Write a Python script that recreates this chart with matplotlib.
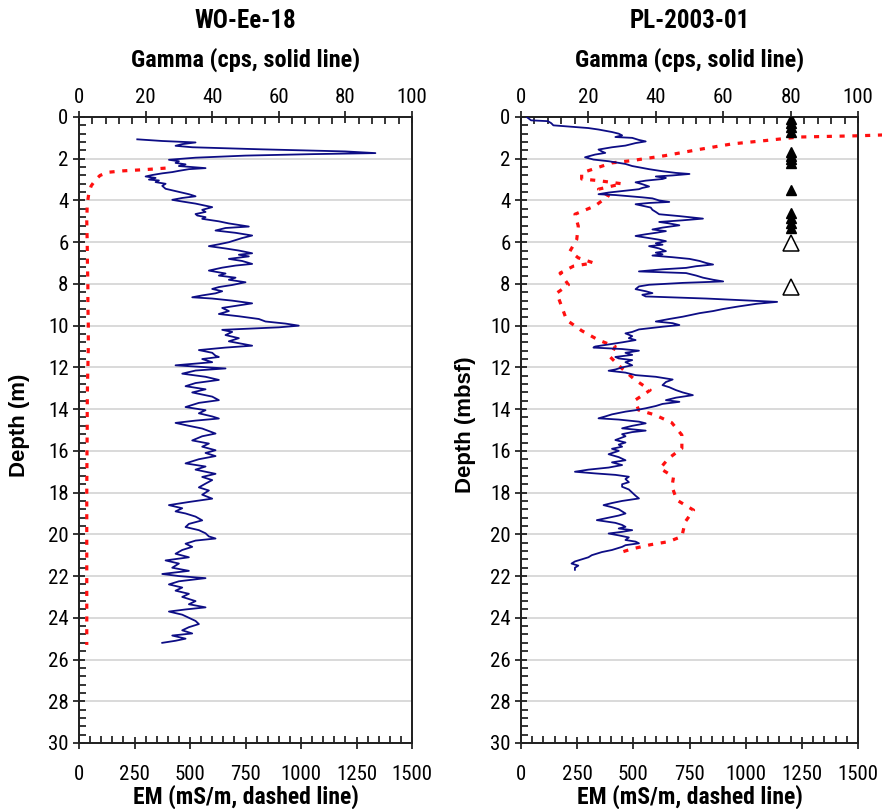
import matplotlib
matplotlib.use("Agg")
import matplotlib.pyplot as plt
from matplotlib.ticker import MultipleLocator
from matplotlib import font_manager as fm


def pick_narrow():
    names = {f.name for f in fm.fontManager.ttflist}
    pref = ['Liberation Sans Narrow', 'Arial Narrow', 'Roboto Condensed', 'Open Sans Condensed',
            'Noto Sans Condensed', 'DejaVu Sans Condensed']
    for p in pref:
        if p in names:
            return p, 'normal'
    for f in fm.fontManager.ttflist:
        st = str(f.stretch).lower()
        if 'condensed' in st and 'extra' not in st and 'ultra' not in st:
            return f.name, st
    return 'Liberation Sans', 'normal'


fam, stretch = pick_narrow()
plt.rcParams['font.family'] = [fam, 'Liberation Sans', 'DejaVu Sans']
plt.rcParams['font.stretch'] = stretch

# ---------------- data ----------------
titles = ["WO-Ee-18", "PL-2003-01"]
ylabels = ["Depth (m)", "Depth (mbsf)"]
gamma_ticks = [0, 20, 40, 60, 80, 100]
em_ticks = [0, 250, 500, 750, 1000, 1250, 1500]
depth_ticks = list(range(0, 31, 2))

# WO-Ee-18 gamma (depth m, cps)
wo_gamma_depth = [1.07, 1.15, 1.22, 1.3, 1.38, 1.45, 1.55, 1.65, 1.73, 1.78, 1.85, 1.95, 2.05, 2.12, 2.2, 2.27,
                  2.35, 2.45, 2.5, 2.58, 2.64, 2.7, 2.78, 2.85, 2.92, 3.0, 3.04, 3.12, 3.2, 3.3, 3.44, 3.55, 3.7,
                  3.8, 3.88, 3.97, 4.05, 4.15, 4.25, 4.32, 4.45, 4.55, 4.65, 4.72, 4.8, 4.88, 5.0, 5.1, 5.25, 5.32,
                  5.44, 5.55, 5.68, 5.8, 5.9, 6.0, 6.1, 6.19, 6.3, 6.4, 6.53, 6.6, 6.68, 6.8, 6.9, 7.04, 7.12, 7.22,
                  7.36, 7.5, 7.6, 7.7, 7.8, 7.92, 8.05, 8.15, 8.24, 8.35, 8.45, 8.55, 8.64, 8.7, 8.8, 8.93, 9.05,
                  9.15, 9.3, 9.44, 9.55, 9.68, 9.8, 9.9, 10.0, 10.08, 10.2, 10.3, 10.45, 10.6, 10.75, 10.96, 11.05,
                  11.17, 11.3, 11.44, 11.5, 11.6, 11.75, 11.9, 12.05, 12.15, 12.3, 12.45, 12.6, 12.75, 12.9, 13.05,
                  13.2, 13.4, 13.57, 13.7, 13.9, 14.05, 14.2, 14.35, 14.45, 14.55, 14.66, 14.8, 14.93, 15.05, 15.17,
                  15.3, 15.5, 15.65, 15.8, 15.97, 16.1, 16.25, 16.4, 16.6, 16.75, 16.9, 17.1, 17.25, 17.4, 17.57,
                  17.75, 17.9, 18.1, 18.29, 18.45, 18.6, 18.75, 18.9, 19.0, 19.15, 19.33, 19.5, 19.65, 19.8, 19.95,
                  20.1, 20.2, 20.3, 20.45, 20.6, 20.75, 20.93, 21.1, 21.25, 21.4, 21.6, 21.75, 21.9, 22.0, 22.1,
                  22.25, 22.4, 22.55, 22.7, 22.85, 23.0, 23.2, 23.35, 23.5, 23.6, 23.7, 23.85, 24.0, 24.15, 24.3,
                  24.45, 24.6, 24.75, 24.85, 25.0, 25.1, 25.2]
wo_gamma = [17.5, 25, 35, 31, 29, 34, 55, 80, 89, 70, 50, 35, 27, 30, 29, 32,
            30, 38, 33, 30, 28, 25, 22, 20, 23, 21, 24, 23, 26, 25, 26, 29, 33,
            35, 31, 28, 31, 35, 38, 40, 37, 38, 35, 35.5, 38, 37, 42, 45, 51, 44,
            41, 47, 52, 49, 47, 45, 42, 39, 44, 48, 52, 48, 51, 45, 49, 52, 47, 43,
            39, 44, 42, 47, 45, 50, 46, 42, 40, 43, 41, 37, 34, 40, 46, 52, 47,
            43, 45, 42, 48, 54, 56, 62, 66, 60, 43, 46, 44, 48, 45, 52, 44,
            36, 40, 41, 42, 37, 40, 29, 44, 35, 31, 38, 42, 35, 32, 38,
            34, 40, 42, 36, 32, 38, 36, 40, 42, 35, 29, 33, 37, 39, 41,
            37, 34, 39, 37, 41, 38, 41, 36, 32, 38, 35, 41, 37, 40, 38,
            36, 39, 37, 40, 33, 27, 31, 29, 32, 35, 37, 33, 32, 36, 38,
            39, 41, 35, 32, 34, 31, 29, 33, 26, 30, 28, 33, 25, 30, 38,
            30, 27, 31, 29, 33, 31, 35, 33, 38, 32, 27, 31, 33, 35, 36,
            33, 31, 34, 28, 32, 29, 25]

# WO-Ee-18 EM (depth m, mS/m)
wo_em_depth = [2.45, 2.52, 2.58, 2.65, 2.8, 3.0, 3.3, 3.6, 4.2, 5, 6, 7, 8, 9, 10, 11, 12, 13, 14, 15, 16, 18,
               20, 22, 24, 25.3]
wo_em = [390, 300, 200, 130, 95, 75, 55, 45, 37, 35, 37, 38, 40, 40, 42, 42, 40, 38, 37, 37, 36, 35,
         35, 35, 35, 35]

# PL-2003-01 gamma
pl_gamma_depth = [0.0, 0.1, 0.16, 0.2, 0.3, 0.4, 0.47, 0.53, 0.6, 0.72, 0.8, 0.88, 0.96, 1.0, 1.1, 1.17, 1.25,
                  1.37, 1.45, 1.56, 1.65, 1.72, 1.8, 1.93, 2.04, 2.12, 2.25, 2.35, 2.5, 2.6, 2.68, 2.73, 2.8,
                  2.85, 2.92, 2.97, 3.05, 3.13, 3.22, 3.33, 3.4, 3.46, 3.55, 3.62, 3.7, 3.74, 3.78, 3.85, 3.9,
                  4.0, 4.07, 4.12, 4.18, 4.25, 4.34, 4.45, 4.55, 4.66, 4.75, 4.87, 4.95, 5.03, 5.1, 5.19, 5.3,
                  5.39, 5.47, 5.55, 5.62, 5.7, 5.8, 5.88, 5.95, 6.05, 6.12, 6.19, 6.3, 6.43, 6.5, 6.58, 6.64,
                  6.72, 6.8, 6.9, 7.0, 7.07, 7.15, 7.23, 7.3, 7.4, 7.48, 7.6, 7.7, 7.8, 7.88, 7.95, 8.04, 8.12,
                  8.25, 8.35, 8.44, 8.52, 8.6, 8.7, 8.76, 8.86, 8.95, 9.08, 9.2, 9.3, 9.4, 9.5, 9.57, 9.68, 9.8,
                  9.88, 9.97, 10.05, 10.18, 10.3, 10.37, 10.5, 10.6, 10.69, 10.8, 10.9, 11.0, 11.05, 11.12, 11.2,
                  11.3, 11.4, 11.5, 11.57, 11.65, 11.75, 11.9, 12.0, 12.1, 12.16, 12.25, 12.37, 12.45, 12.58,
                  12.7, 12.85, 12.95, 13.09, 13.2, 13.33, 13.45, 13.57, 13.65, 13.75, 13.85, 13.96, 14.05, 14.12,
                  14.25, 14.35, 14.44, 14.5, 14.6, 14.68, 14.8, 14.92, 15.03, 15.1, 15.2, 15.3, 15.48, 15.6, 15.7,
                  15.8, 15.9, 16.0, 16.16, 16.3, 16.45, 16.55, 16.68, 16.8, 16.9, 17.0, 17.08, 17.15, 17.24, 17.35,
                  17.5, 17.6, 17.72, 17.85, 18.0, 18.15, 18.28, 18.4, 18.5, 18.6, 18.7, 18.8, 19.0, 19.1, 19.2,
                  19.32, 19.45, 19.55, 19.64, 19.72, 19.8, 19.88, 19.96, 20.05, 20.15, 20.27, 20.35, 20.43, 20.52,
                  20.6, 20.75, 20.85, 21.0, 21.1, 21.2, 21.3, 21.4, 21.5, 21.6, 21.7]
pl_gamma = [1.7, 2.5, 3, 8, 9, 9.6, 15, 20, 23, 27, 29, 30, 28, 33, 35, 37, 34,
            31, 27, 23, 24, 25, 22, 19, 21.5, 26, 31, 33, 38, 42, 46, 50, 45,
            40, 43, 42, 37, 34, 36, 38, 36, 35, 30, 26, 23, 28, 31, 36, 39,
            41, 44, 38, 34, 36, 38.5, 39, 40, 41, 47, 54, 48, 41, 44, 47, 42,
            39, 43, 40, 37, 34, 38, 41, 43, 40, 42, 38, 41, 43, 40, 42, 39,
            45, 50, 53, 55, 57, 52, 49, 42, 35, 49, 52, 54, 57, 60, 48, 38, 35,
            34, 37, 39, 36, 37, 55, 63, 76, 70, 64.5, 60, 57, 53, 50, 48, 44, 40,
            45, 47, 42, 35, 33, 31, 33, 32, 34, 30, 26, 22, 21.5, 30, 35,
            31, 33, 28, 29, 33, 31, 33, 30, 28, 26, 31, 34, 40, 45,
            43, 42, 44, 46, 48, 51, 46, 43, 47, 42, 40, 37, 34, 31,
            27, 25, 23, 29, 35, 37, 33, 30, 37, 33, 30, 31, 28, 31, 29,
            30, 27, 29, 26, 29, 31, 27, 30, 26, 20, 16, 22, 28, 32, 31,
            32, 30, 30, 32, 33, 34, 35, 30, 27, 24.5, 27, 29, 31, 29, 26,
            22.5, 28, 30, 31, 29, 33, 30, 26, 29, 32, 31, 34, 35, 31,
            30, 27, 24, 21, 20, 18, 16, 15, 17, 16, 16]

# PL-2003-01 EM
pl_em_depth = [0.85, 0.9, 0.96, 1.13, 1.29, 1.56, 1.85, 2.09, 2.2, 2.41, 2.68, 2.97, 3.05, 3.2, 3.46, 3.78,
               4.26, 4.66, 5.23, 5.87, 6.43, 6.75, 6.99, 7.15, 7.48, 8.04, 8.44, 9.08, 9.73, 10.24, 10.69,
               11.0, 11.5, 12.05, 12.6, 13.09, 13.57, 14.04, 14.28, 14.65, 15.24, 15.88, 16.36, 16.84, 17.24,
               17.72, 18.36, 18.84, 19.4, 20.1, 20.35, 20.5, 20.7, 20.9]
pl_em = [1640, 1500, 1236, 1087, 939, 790, 642, 493, 404, 345, 270, 270, 345, 449, 345, 389,
         330, 240, 255, 248, 218, 255, 322, 233, 174, 211, 159, 181, 203, 270, 345,
         419, 397, 449, 508, 575, 508, 523, 597, 671, 716, 716, 657, 619, 679,
         672, 694, 768, 731, 716, 657, 575, 493, 434]

# PL-2003-01 sample markers (on gamma axis)
filled_tri_depth = [0.1, 0.3, 0.5, 0.7, 1.66, 1.85, 2.03, 2.22, 3.5, 4.62, 4.86, 5.09, 5.33]
open_tri_depth = [6.05, 8.13]
tri_gamma = 80

# ---------------- figure ----------------
W, H = 882, 809
fig = plt.figure(figsize=(W / 100, H / 100), dpi=100)

axes_px = [(79, 412), (521, 858)]
top_px, bot_px = 117, 743

blue = '#0d0d85'
red = '#ff1010'

datasets = [
    (wo_gamma_depth, wo_gamma, wo_em_depth, wo_em),
    (pl_gamma_depth, pl_gamma, pl_em_depth, pl_em),
]

ylabel_x = [20, 466]

for i, ((x0, x1), (gd, gv, ed, ev)) in enumerate(zip(axes_px, datasets)):
    ax = fig.add_axes([x0 / W, 1 - bot_px / H, (x1 - x0) / W, (bot_px - top_px) / H])
    ax2 = ax.twiny()

    ax.set_ylim(30, 0)
    ax.set_xlim(0, 1500)
    ax2.set_xlim(0, 100)

    # grid
    for d in depth_ticks[1:-1]:
        ax.axhline(d, color='#cfcfcf', lw=1.1, zorder=0)

    ax.plot(ev, ed, color=red, lw=2.3, dashes=(1.6, 2.4), zorder=3,
            clip_on=(i == 0), dash_capstyle='butt')
    ax2.plot(gv, gd, color=blue, lw=1.3, zorder=4)

    if i == 1:
        ax2.plot([tri_gamma] * len(filled_tri_depth), filled_tri_depth, linestyle='none',
                 marker='^', ms=7, color='black', zorder=5)
        ax2.plot([tri_gamma] * len(open_tri_depth), open_tri_depth, linestyle='none',
                 marker='^', ms=11, markerfacecolor='white', markeredgecolor='black', mew=1.1, zorder=5)

    # ticks
    ax.set_xticks(em_ticks)
    ax.set_xticklabels([str(t) for t in em_ticks])
    ax.xaxis.set_minor_locator(MultipleLocator(50))
    ax.set_yticks(depth_ticks)
    ax.set_yticklabels([str(t) for t in depth_ticks])
    ax.yaxis.set_minor_locator(MultipleLocator(0.4))
    ax2.set_xticks(gamma_ticks)
    ax2.set_xticklabels([str(t) for t in gamma_ticks])
    ax2.xaxis.set_minor_locator(MultipleLocator(4))

    ax.tick_params(axis='x', which='major', direction='inout', length=9, width=1.1,
                   labelsize=15, pad=11, top=False, bottom=True)
    ax.tick_params(axis='x', which='minor', direction='in', length=5, width=1.1, top=False)
    ax.tick_params(axis='y', which='major', direction='inout', length=9, width=1.1,
                   labelsize=15, pad=3, right=False)
    ax.tick_params(axis='y', which='minor', direction='in', length=5, width=1.1, right=False)
    ax2.tick_params(axis='x', which='major', direction='inout', length=9, width=1.1,
                    labelsize=15, pad=3, top=True, bottom=False)
    ax2.tick_params(axis='x', which='minor', direction='in', length=5, width=1.1, top=True, bottom=False)

    for a in (ax, ax2):
        for s in a.spines.values():
            s.set_linewidth(1.3)
            s.set_color('#222222')

    cx = (x0 + x1) / 2 / W
    fig.text(cx, 1 - 21 / H, titles[i], ha='center', va='center', fontsize=18, fontweight='bold')
    fig.text(cx, 1 - 60 / H, "Gamma (cps, solid line)", ha='center', va='center',
             fontsize=17.5, fontweight='bold')
    fig.text(cx, 1 - 797 / H, "EM (mS/m, dashed line)", ha='center', va='center',
             fontsize=17, fontweight='bold')
    fig.text(ylabel_x[i] / W, 1 - 425 / H, ylabels[i], ha='center', va='center', rotation=90,
             fontsize=16, fontweight='bold', family=['Liberation Sans', 'DejaVu Sans'],
             stretch='normal')

fig.savefig("out.png", dpi=100)
